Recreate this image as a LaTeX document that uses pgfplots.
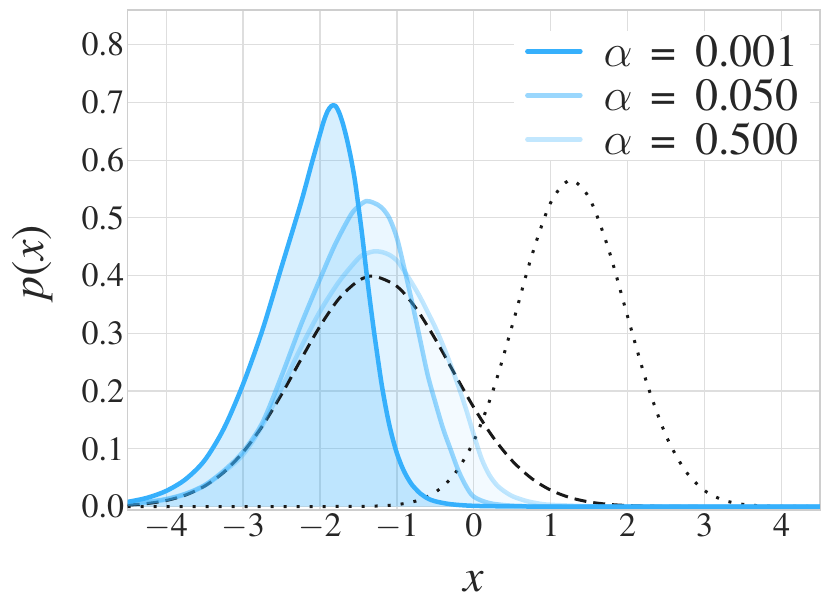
\RequirePackage{fix-cm}
\documentclass[border=0pt]{standalone}
\usepackage{pgfplots}
\pgfplotsset{compat=1.18}
\usepackage{pgfplotstable}
\usepackage{fontspec}
\IfFontExistsTF{texgyretermes-regular.otf}
  {\setmainfont{texgyretermes}[Extension=.otf, UprightFont=*-regular, ItalicFont=*-italic, BoldFont=*-bold, BoldItalicFont=*-bolditalic]}
  {\setmainfont{DejaVu Serif}}
\definecolor{bl}{RGB}{54,176,252}
\definecolor{gridc}{RGB}{222,222,222}
\definecolor{framec}{RGB}{206,206,206}
\definecolor{txt}{RGB}{38,38,38}

\pgfplotstableread{
x y
-4.5 0.008
-4.25 0.015
-4.0 0.027
-3.75 0.047
-3.5 0.080
-3.25 0.135
-3.0 0.212
-2.75 0.305
-2.5 0.415
-2.25 0.525
-2.1 0.598
-2.0 0.645
-1.95 0.668
-1.9 0.685
-1.85 0.694
-1.8 0.694
-1.75 0.682
-1.7 0.662
-1.65 0.636
-1.6 0.605
-1.55 0.568
-1.5 0.52
-1.45 0.468
-1.4 0.41
-1.35 0.356
-1.3 0.305
-1.25 0.258
-1.2 0.213
-1.15 0.175
-1.1 0.142
-1.05 0.115
-1.0 0.092
-0.95 0.074
-0.9 0.059
-0.85 0.047
-0.8 0.037
-0.7 0.023
-0.6 0.014
-0.5 0.009
-0.3 0.004
0.0 0.0012
0.5 0.0002
1.0 0.0
2.0 0.0
3.0 0.0
4.0 0.0
4.5 0.0
}\darkT

\pgfplotstableread{
x y
-4.5 0.005
-4.25 0.008
-4.0 0.013
-3.75 0.022
-3.5 0.037
-3.25 0.062
-3.0 0.095
-2.75 0.145
-2.5 0.226
-2.25 0.314
-2.0 0.394
-1.8 0.455
-1.6 0.505
-1.5 0.520
-1.4 0.529
-1.3 0.526
-1.2 0.518
-1.1 0.500
-1.0 0.465
-0.9 0.410
-0.8 0.352
-0.7 0.290
-0.6 0.228
-0.5 0.180
-0.4 0.135
-0.3 0.098
-0.2 0.062
-0.1 0.035
0.0 0.017
0.2 0.006
0.5 0.0015
1.0 0.0002
1.5 0.0
2.5 0.0
3.5 0.0
4.5 0.0
}\midT

\pgfplotstableread{
x y
-4.5 0.004
-4.25 0.007
-4.0 0.012
-3.75 0.021
-3.5 0.036
-3.25 0.060
-3.0 0.090
-2.75 0.140
-2.5 0.205
-2.25 0.275
-2.0 0.338
-1.75 0.390
-1.5 0.430
-1.4 0.438
-1.3 0.442
-1.2 0.441
-1.1 0.436
-1.0 0.426
-0.9 0.407
-0.8 0.386
-0.7 0.363
-0.6 0.337
-0.5 0.310
-0.4 0.279
-0.3 0.245
-0.2 0.208
-0.1 0.168
0.0 0.124
0.1 0.083
0.2 0.055
0.3 0.037
0.4 0.026
0.5 0.018
0.6 0.013
0.7 0.009
0.85 0.005
1.0 0.003
1.5 0.0005
2.0 0.0
3.0 0.0
4.0 0.0
4.5 0.0
}\lightT

\pgfplotstableread{
x y
-4.5 0.00239
-4.25 0.00515
-4.0 0.01042
-3.75 0.01984
-3.5 0.03547
-3.25 0.05959
-3.0 0.09405
-2.75 0.1394
-2.5 0.1942
-2.25 0.2541
-2.0 0.3123
-1.75 0.3606
-1.5 0.3910
-1.3 0.3989
-1.0 0.3814
-0.75 0.3430
-0.5 0.2897
-0.25 0.2299
0.0 0.1714
0.25 0.1200
0.5 0.0790
0.75 0.0488
1.0 0.0283
1.25 0.0155
1.5 0.0079
1.75 0.0038
2.0 0.0017
2.25 0.0007
2.5 0.0003
3.0 0.00003
3.5 0.0
4.0 0.0
4.5 0.0
}\dashT

\pgfplotstableread{
x y
-4.5 0.0
-3.5 0.0
-2.5 0.0
-2.0 0.0
-1.5 0.0003
-1.25 0.0010
-1.0 0.00329
-0.75 0.00962
-0.5 0.0248
-0.25 0.0565
0.0 0.1135
0.25 0.2010
0.5 0.3141
0.75 0.4330
1.0 0.5266
1.25 0.5649
1.5 0.5345
1.75 0.4462
2.0 0.3286
2.25 0.2135
2.5 0.1223
2.75 0.0619
3.0 0.0276
3.25 0.01085
3.5 0.00377
3.75 0.00115
4.0 0.0003
4.5 0.0
}\dotT

\begin{document}
\begin{tikzpicture}
\path[use as bounding box] (-127.7bp,-101bp) rectangle (702.3bp,510bp);
\begin{axis}[
  at={(0bp,0bp)}, anchor=south west,
  scale only axis, width=692.3bp, height=500bp,
  xmin=-4.5, xmax=4.5, ymin=-0.006, ymax=0.86,
  xtick={-4,-3,-2,-1,0,1,2,3,4},
  xticklabels={$-$4,$-$3,$-$2,$-$1,0,1,2,3,4},
  ytick={0,0.1,0.2,0.3,0.4,0.5,0.6,0.7,0.8},
  yticklabels={0.0,0.1,0.2,0.3,0.4,0.5,0.6,0.7,0.8},
  major tick length=0pt,
  tick style={draw=none},
  grid=major,
  grid style={gridc, line width=1.2bp},
  axis line style={framec, line width=1.6bp},
  tick label style={font=\fontsize{34bp}{40bp}\selectfont, text=txt},
  xlabel={\textit{x}},
  ylabel={\textit{p}(\textit{x})},
  every axis x label/.style={at={(axis description cs:0.5,-0.162)}, anchor=base, font=\fontsize{46bp}{50bp}\selectfont, text=txt},
  every axis y label/.style={at={(axis description cs:-0.1375,0.496)}, anchor=center, rotate=90, font=\fontsize{46bp}{50bp}\selectfont, text=txt},
  legend cell align=left,
  legend image code/.code={\draw[#1, line cap=round] (0bp,0bp) -- (53bp,0bp);},
  legend style={at={(axis description cs:0.9856,0.70)}, anchor=south east,
    draw=none, fill=white, inner xsep=11bp, inner ysep=5bp, row sep=13bp,
    font=\fontsize{46bp}{50bp}\selectfont, text=txt,
    nodes={inner sep=0bp, text height=31bp, text depth=0bp},
    /tikz/every odd column/.append style={column sep=21bp}},
]
% fills
\addplot[smooth, draw=none, fill=bl, fill opacity=0.2, forget plot] table {\darkT} \closedcycle;
\addplot[smooth, draw=none, fill=bl, fill opacity=0.1, forget plot] table {\midT} \closedcycle;
\addplot[smooth, draw=none, fill=bl, fill opacity=0.06, forget plot] table {\lightT} \closedcycle;
% reference densities
\addplot[smooth, black!90, line width=3bp, dash pattern=on 12bp off 7bp, forget plot] table {\dashT};
\addplot[smooth, black!90, line width=3bp, dash pattern=on 3bp off 10bp, forget plot] table {\dotT};
% alpha curves
\addplot[smooth, bl, line width=4.5bp, line join=round] table {\darkT};
\addplot[smooth, bl, draw opacity=0.5, line width=4.5bp, line join=round] table {\midT};
\addplot[smooth, bl, draw opacity=0.3, line width=4.5bp, line join=round] table {\lightT};
\legend{{$\alpha$\hspace{0.4em}=\hspace{0.4em}0.001},{$\alpha$\hspace{0.4em}=\hspace{0.4em}0.050},{$\alpha$\hspace{0.4em}=\hspace{0.4em}0.500}}
\end{axis}
\end{tikzpicture}
\end{document}
